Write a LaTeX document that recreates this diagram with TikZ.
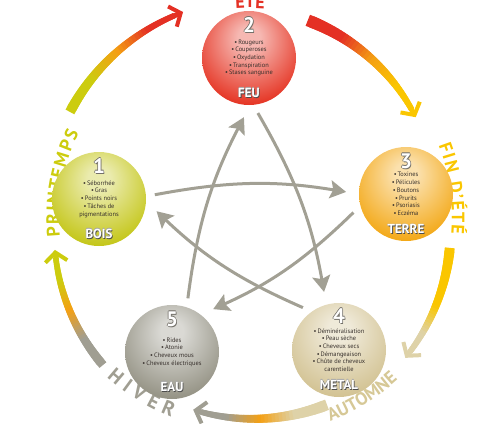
\documentclass[tikz,border=0pt]{standalone}
\usepackage{fontspec}
\setmainfont{PT Sans}
\usetikzlibrary{arrows.meta,decorations.text}

\definecolor{feucol}{RGB}{229,52,35}
\definecolor{terrecol}{RGB}{243,168,22}
\definecolor{boiscol}{RGB}{196,198,24}
\definecolor{eaucol}{RGB}{148,146,132}
\definecolor{metalcol}{RGB}{210,194,146}
\definecolor{ringred}{RGB}{228,48,36}
\definecolor{ringorange}{RGB}{244,160,20}
\definecolor{ringyellow}{RGB}{250,198,0}
\definecolor{ringgreen}{RGB}{204,204,14}
\definecolor{ringbeige}{RGB}{222,210,168}
\definecolor{autcol}{RGB}{214,200,150}
\definecolor{ringgray}{RGB}{160,158,146}
\definecolor{stargray}{RGB}{162,160,148}
\definecolor{listcol}{RGB}{55,48,44}
\definecolor{numrim}{RGB}{115,112,105}

% sphere shading, light spot a bit above the centre
\colorlet{sphlo}{white}
\colorlet{sphhi}{gray}
\pgfdeclareradialshading[sphlo,sphhi]{sphere}{\pgfpoint{0bp}{12bp}}{%
  color(0bp)=(sphlo); color(6bp)=(sphlo); color(32bp)=(sphhi);
  color(58bp)=(sphhi!92!black); color(75bp)=(sphhi!92!black)}

\newcommand{\seasonfont}{\fontsize{18}{18}\selectfont\bfseries}

% white digit with grey rim
\newcommand{\numtxt}[1]{%
  \rlap{\color{numrim}\kern-.6pt#1}%
  \rlap{\color{numrim}\kern.6pt#1}%
  \rlap{\color{numrim}\raisebox{.6pt}{#1}}%
  \rlap{\color{numrim}\raisebox{-.6pt}{#1}}%
  \rlap{\color{numrim}\kern.8pt\raisebox{-1pt}{#1}}%
  \textcolor{white}{#1}}
% white name with dark shadow
\newcommand{\elemtxt}[1]{%
  \rlap{\color{black!35}\kern-.4pt#1}%
  \rlap{\color{black!35}\raisebox{.4pt}{#1}}%
  \rlap{\color{black!70}\kern.8pt\raisebox{-.8pt}{#1}}%
  \textcolor{white}{#1}}

% brush arc of the seasons: angles, radii, colours, widths
\newcommand{\seasonarc}[9]{%
  \foreach \i in {1,...,36}{%
    \pgfmathsetmacro{\tA}{0.94*(\i-1)/36}%
    \pgfmathsetmacro{\tB}{0.94*min(36,\i+1)/36}%
    \pgfmathsetmacro{\tM}{0.94*(\i-0.5)/36}%
    \pgfmathsetmacro{\angA}{(#1)+((#2)-(#1))*\tA}%
    \pgfmathsetmacro{\angB}{(#1)+((#2)-(#1))*\tB}%
    \pgfmathsetmacro{\radA}{(#3)+((#4)-(#3))*\tA}%
    \pgfmathsetmacro{\radB}{(#3)+((#4)-(#3))*\tB}%
    \pgfmathsetmacro{\segw}{(#8)+((#9)-(#8))*\tM}%
    \pgfmathtruncatemacro{\mixA}{min(100,max(0,400*(\tM-0.25)))}%
    \pgfmathtruncatemacro{\mixB}{min(100,max(0,400*(\tM-0.5)))}%
    \colorlet{segc}{#6!\mixA!#5}%
    \colorlet{segc}{#7!\mixB!segc}%
    \draw[segc, line width=\segw pt] ([shift={(\angA:\radA pt)}]ring) -- ([shift={(\angB:\radB pt)}]ring);
  }%
  \pgfmathsetmacro{\angA}{(#1)+((#2)-(#1))*0.88}%
  \pgfmathsetmacro{\radA}{(#3)+((#4)-(#3))*0.88}%
  \draw[seasontip, #7, line width=#9pt] ([shift={(\angA:\radA pt)}]ring) -- ([shift={(#2:#4pt)}]ring);
}

\begin{document}
\begin{tikzpicture}[x=1pt, y=1pt,
    elem/.style={circle, minimum size=94pt, inner sep=0pt, outer sep=6pt,
      /utils/exec={\colorlet{sphhi}{#1}\colorlet{sphlo}{#1!35!white}},
      shading=sphere, align=center, text=listcol,
      font=\fontsize{6.4}{7.7}\selectfont},
    num/.style={font=\fontsize{21}{21}\selectfont\bfseries},
    lbl/.style={font=\fontsize{13}{13}\selectfont\bfseries},
    ctrl/.style={line width=3pt, stargray, -{Stealth[length=16pt,width=18pt,inset=3pt]},
      shorten <=3pt, shorten >=7pt},
    seasontip/.style={-{Straight Barb[length=9pt,width=22pt,line width=4pt]}}]
    \useasboundingbox (0,0) rectangle (500,-423);
    \coordinate (ring) at (250,-218);

    % outer cycle of the seasons
    \seasonarc{225}{189.3}{208}{197.6}{ringgray}{ringorange}{ringgreen}{9}{5}
    \seasonarc{149.5}{108}{209}{216.6}{ringgreen}{ringorange}{ringred}{10}{5}
    \seasonarc{73.7}{31.3}{206}{194}{ringred}{ringorange}{ringyellow}{12}{5}
    \seasonarc{-8.5}{-42}{202}{209}{ringyellow}{ringyellow}{ringbeige}{10}{5}
    \seasonarc{-67.6}{-106.5}{202}{200}{ringbeige}{ringorange}{ringgray}{11}{5}

    % season names
    \path[decorate, decoration={text along path, text={|\seasonfont|ÉTÉ},
      text align=center, text color=ringred}]
      ([shift={(100:210pt)}]ring) arc[start angle=100, end angle=80, radius=210pt];
    \path[decorate, decoration={text along path, text={|\seasonfont|FIN D'ÉTÉ},
      text align={fit to path}, text color=ringyellow}]
      ([shift={(21:202pt)}]ring) arc[start angle=21, end angle=-4.5, radius=202pt];
    \path[decorate, decoration={text along path, text={|\seasonfont|AUTOMNE},
      text align=center, text color=autcol}]
      ([shift={(-71:219pt)}]ring) arc[start angle=-71, end angle=-45, radius=219pt];
    \path[decorate, decoration={text along path, text={|\fontsize{20}{20}\selectfont\bfseries|HIVER},
      text align={fit to path}, text color=ringgray}]
      ([shift={(-132:214pt)}]ring) arc[start angle=-132, end angle=-111.5, radius=214pt];
    \path[decorate, decoration={text along path, text={|\seasonfont|PRINTEMPS},
      text align={fit to path}, text color=ringgreen}]
      ([shift={(185.5:191pt)}]ring) arc[start angle=185.5, end angle=153.5, radius=191pt];

    % the five elements
    \node[elem=feucol] (feu) at (249,-58) {\textbullet\,Rougeurs\\\textbullet\,Couperoses\\\textbullet\,Oxydation\\\textbullet\,Transpiration\\\textbullet\,Stases sanguine};
    \node[elem=terrecol] (terre) at (406,-194) {\textbullet\,Toxines\\\textbullet\,Pélicules\\\textbullet\,Boutons\\\textbullet\,Prurits\\\textbullet\,Psoriasis\\\textbullet\,Eczéma};
    \node[elem=boiscol] (bois) at (99,-199) {\textbullet\,Séborrhée\\\textbullet\,Gras\\\textbullet\,Points noirs\\\textbullet\,Tâches de\\pigmentations};
    \node[elem=eaucol] (eau) at (172,-352) {\textbullet\,Rides\\\textbullet\,Atonie\\\textbullet\,Cheveux mous\\\textbullet\,Cheveux électriques};
    \node[elem=metalcol] (metal) at (339,-350) {\textbullet\,Déminéralisation\\\textbullet\,Peau sèche\\\textbullet\,Cheveux secs\\\textbullet\,Démangeaison\\\textbullet\,Chûte de cheveux\\carentielle};

    \node[num] (feunum) at ([yshift=33pt]feu.center) {\numtxt{2}};
    \node[num] (terrenum) at ([yshift=33pt]terre.center) {\numtxt{3}};
    \node[num] (boisnum) at ([yshift=33pt]bois.center) {\numtxt{1}};
    \node[num] (eaunum) at ([yshift=33pt]eau.center) {\numtxt{5}};
    \node[num] (metalnum) at ([yshift=34pt]metal.center) {\numtxt{4}};

    \node[lbl] (feulbl) at ([yshift=-35pt]feu.center) {\elemtxt{FEU}};
    \node[lbl] (terrelbl) at ([yshift=-35pt]terre.center) {\elemtxt{TERRE}};
    \node[lbl] (boislbl) at ([yshift=-35pt]bois.center) {\elemtxt{BOIS}};
    \node[lbl] (eaulbl) at ([yshift=-35pt]eau.center) {\elemtxt{EAU}};
    \node[lbl] (metallbl) at ([yshift=-35pt]metal.center) {\elemtxt{METAL}};

    % star of control
    \draw[ctrl] (eau.73) to[bend left=10] (feu.268);
    \draw[ctrl] (feu.278) to[bend left=10] (metal.105);
    \draw[ctrl] (bois.4) to[bend left=10] (terre.179);
    \draw[ctrl] (terre.198) to[bend left=10] (eau.49);
    \draw[ctrl] (metal.129) to[bend left=10] (bois.-8);
\end{tikzpicture}
\end{document}
